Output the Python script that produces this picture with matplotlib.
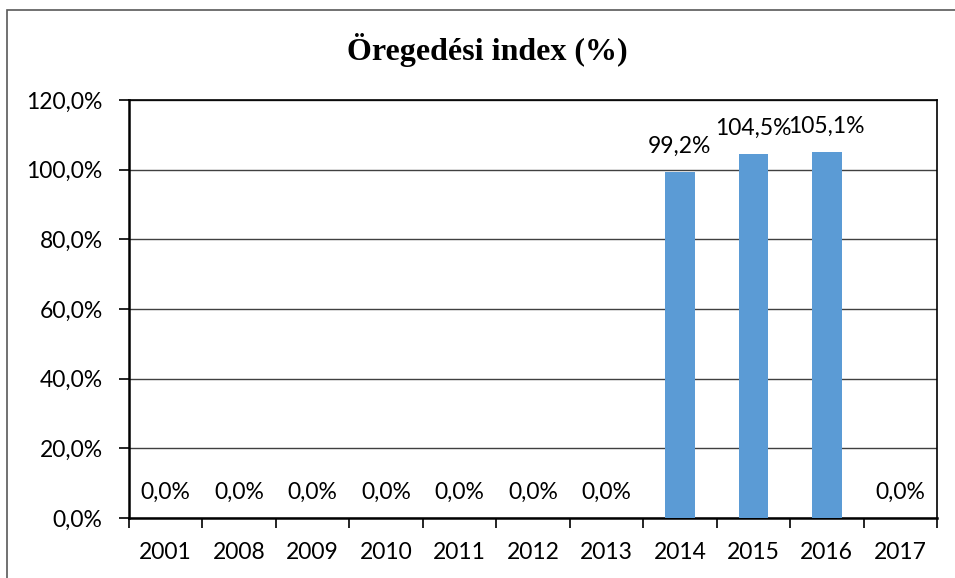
import numpy as np
import matplotlib.pyplot as plt
from matplotlib.patches import Rectangle

years = ['2001', '2008', '2009', '2010', '2011', '2012', '2013', '2014', '2015', '2016', '2017']
values = [0.0, 0.0, 0.0, 0.0, 0.0, 0.0, 0.0, 99.2, 104.5, 105.1, 0.0]
title = 'Öregedési index (%)'

W, H = 955, 578
fig = plt.figure(figsize=(W / 100, H / 100), dpi=100)

# outer chart border (extends past right/bottom edge)
fig.patches.append(Rectangle((7 / W, -0.05), 1.1, 1 - 10 / H + 0.05, transform=fig.transFigure,
                             fill=False, edgecolor='#595959', linewidth=1.2))

ax = fig.add_axes([129 / W, 1 - 518 / H, (937 - 129) / W, (518 - 100) / H])

x = np.arange(len(years))
ax.bar(x, values, width=0.4, color='#5B9BD5', zorder=3)

fs = 16.5
for xi, v in zip(x, values):
    lbl = f'{v:.1f}%'.replace('.', ',')
    ax.annotate(lbl, (xi, v), xytext=(0, 18.5), textcoords='offset points', ha='center', va='center',
                fontsize=fs, family='Lato', zorder=4)

ax.set_xlim(-0.5, len(years) - 0.5)
ax.set_ylim(0, 120)
yt = np.arange(0, 121, 20)
ax.set_yticks(yt)
ax.set_yticklabels([f'{t:.1f}%'.replace('.', ',') for t in yt], fontsize=fs, family='Lato')
ax.set_xticks(x)
ax.set_xticklabels(years, fontsize=fs, family='Lato')
ax.set_xticks(np.arange(-0.5, len(years)), minor=True)
ax.tick_params(axis='x', which='major', length=0, pad=17)
ax.tick_params(axis='x', which='minor', length=7, width=1.2, direction='out')
ax.tick_params(axis='y', length=7, width=1.2, pad=12)

ax.grid(axis='y', color='#404040', linewidth=1, zorder=0)
for s in ['left', 'bottom']:
    ax.spines[s].set_linewidth(1.8)
for s in ['top', 'right']:
    ax.spines[s].set_linewidth(1.2)

fig.text(487 / W, 1 - 50 / H, title, ha='center', va='center', fontsize=23, fontweight='bold',
         family='Liberation Serif')

fig.savefig('out.png', dpi=100)
